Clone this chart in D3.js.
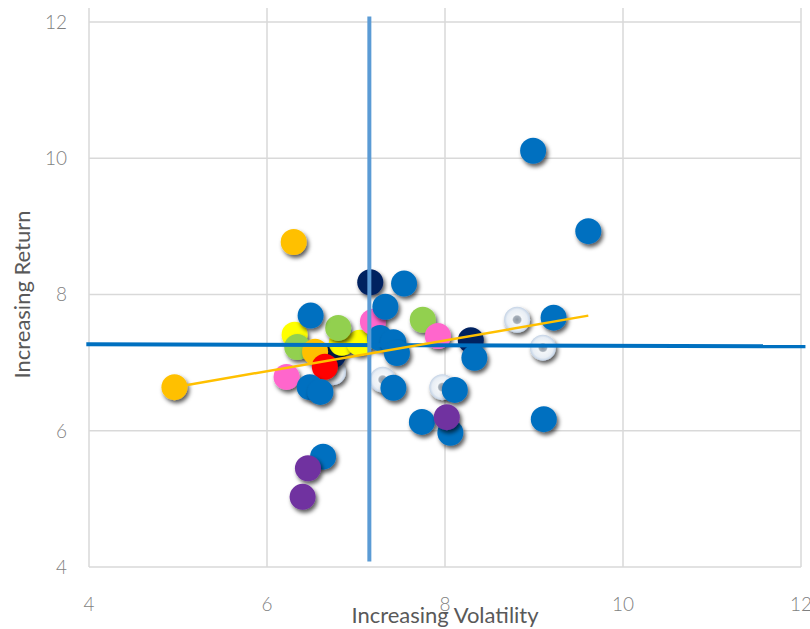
<!DOCTYPE html>
<html>
<head>
<meta charset="utf-8">
<script src="https://cdn.jsdelivr.net/npm/d3@7"></script>
<style>
  body { margin: 0; background: #fff; }
  svg { display: block; }
</style>
</head>
<body>
<svg width="810" height="629"></svg>
<script>
const width = 810;
const height = 629;

// series drawn in this order (later ones sit on top)
const seriesNames = ["ring", "navy", "yellow", "green", "pink", "orange", "red", "blue", "purple"];
const seriesColors = ["#dbe4ef", "#002060", "#ffff00", "#92d050", "#ff66cc", "#ffc000", "#ff0000", "#0070c0", "#7030a0"];

const volatility = [
  8.81, 9.10, 6.74, 7.30, 7.97,
  7.16, 8.29, 6.74,
  6.31, 6.84, 7.04,
  7.75, 6.80, 6.34,
  7.19, 7.92, 6.22,
  6.30, 6.54, 4.96,
  6.65,
  8.99, 9.61, 7.54, 7.33, 6.49, 9.22, 7.27, 7.42, 7.46, 8.33, 6.48, 6.60, 7.42, 8.11, 7.74, 8.06, 9.11, 6.63,
  8.02, 6.46, 6.40
];
const returns = [
  7.63, 7.22, 6.86, 6.75, 6.64,
  8.18, 7.33, 7.11,
  7.41, 7.29, 7.29,
  7.63, 7.51, 7.23,
  7.60, 7.39, 6.79,
  8.77, 7.16, 6.64,
  6.94,
  10.11, 8.93, 8.16, 7.82, 7.69, 7.66, 7.36, 7.30, 7.14, 7.07, 6.64, 6.57, 6.63, 6.60, 6.13, 5.97, 6.17, 5.62,
  6.20, 5.45, 5.03
];
const series = [
  "ring", "ring", "ring", "ring", "ring",
  "navy", "navy", "navy",
  "yellow", "yellow", "yellow",
  "green", "green", "green",
  "pink", "pink", "pink",
  "orange", "orange", "orange",
  "red",
  "blue", "blue", "blue", "blue", "blue", "blue", "blue", "blue", "blue", "blue", "blue", "blue", "blue", "blue", "blue", "blue", "blue", "blue",
  "purple", "purple", "purple"
];

const xTicks = [4, 6, 8, 10, 12];
const yTicks = [4, 6, 8, 10, 12];

// reference lines
const avgReturnX = [3.97, 12.05];
const avgReturnY = [7.27, 7.24];
const avgVolX = [7.15, 7.15];
const avgVolY = [4.08, 12.08];
const trendX = [4.96, 9.61];
const trendY = [6.64, 7.69];

const margin = { top: 22, right: 9, bottom: 62, left: 89 };

const x = d3.scaleLinear().domain([4, 12]).range([margin.left, width - margin.right]);
const y = d3.scaleLinear().domain([4, 12]).range([height - margin.bottom, margin.top]);
const color = d3.scaleOrdinal().domain(seriesNames).range(seriesColors);

const svg = d3.select("svg");
const defs = svg.append("defs");

defs.append("filter")
  .attr("id", "shadow")
  .attr("x", "-50%").attr("y", "-50%")
  .attr("width", "200%").attr("height", "200%")
  .append("feDropShadow")
  .attr("dx", 2)
  .attr("dy", 3)
  .attr("stdDeviation", 2)
  .attr("flood-color", "#000")
  .attr("flood-opacity", 0.65);

const ringGrad = defs.append("radialGradient").attr("id", "ring");
[["0%", "#8d97a2"], ["28%", "#a7b0ba"], ["38%", "#f3f6f9"], ["78%", "#e8eef5"], ["100%", "#c3d2e5"]]
  .forEach(([o, c]) => ringGrad.append("stop").attr("offset", o).attr("stop-color", c));

// gridlines
svg.append("g")
  .attr("stroke", "#d9d9d9")
  .attr("stroke-width", 1.5)
  .selectAll("line")
  .data(xTicks)
  .join("line")
  .attr("x1", d => x(d))
  .attr("x2", d => x(d))
  .attr("y1", y(12) - 14)
  .attr("y2", y(4));

svg.append("g")
  .attr("stroke", "#d9d9d9")
  .attr("stroke-width", 1.5)
  .selectAll("line")
  .data(yTicks)
  .join("line")
  .attr("x1", x(4))
  .attr("x2", x(12))
  .attr("y1", d => y(d))
  .attr("y2", d => y(d));

// tick labels
svg.append("g")
  .attr("font-family", "Lato, 'Open Sans', sans-serif")
  .attr("font-weight", 300)
  .attr("font-size", 19)
  .attr("fill", "#7f7f7f")
  .attr("text-anchor", "end")
  .selectAll("text")
  .data(yTicks)
  .join("text")
  .attr("x", margin.left - 22)
  .attr("y", d => y(d))
  .attr("dy", "0.36em")
  .text(d => d);

svg.append("g")
  .attr("font-family", "Lato, 'Open Sans', sans-serif")
  .attr("font-weight", 300)
  .attr("font-size", 19)
  .attr("fill", "#7f7f7f")
  .attr("text-anchor", "middle")
  .selectAll("text")
  .data(xTicks)
  .join("text")
  .attr("x", d => x(d))
  .attr("y", 611)
  .text(d => d);

// axis titles
svg.append("text")
  .attr("x", x(8))
  .attr("y", 623)
  .attr("text-anchor", "middle")
  .attr("font-family", "Lato, 'Open Sans', sans-serif")
  .attr("font-size", 22)
  .attr("fill", "#595959")
  .text("Increasing Volatility");

svg.append("text")
  .attr("transform", `translate(30,${(y(4) + y(12)) / 2})rotate(-90)`)
  .attr("text-anchor", "middle")
  .attr("font-family", "Lato, 'Open Sans', sans-serif")
  .attr("font-size", 22)
  .attr("fill", "#595959")
  .text("Increasing Return");

// points
const points = volatility.map((v, i) => ({ v, r: returns[i], s: series[i] }));
points.sort((a, b) => seriesNames.indexOf(a.s) - seriesNames.indexOf(b.s));

svg.append("g")
  .selectAll("circle")
  .data(points)
  .join("circle")
  .attr("cx", d => x(d.v))
  .attr("cy", d => y(d.r))
  .attr("r", 13)
  .attr("fill", d => d.s === "ring" ? "url(#ring)" : color(d.s))
  .attr("filter", "url(#shadow)");

// reference lines on top
const line = d3.line().x(d => x(d[0])).y(d => y(d[1]));

svg.append("path")
  .datum(avgReturnX.map((d, i) => [d, avgReturnY[i]]))
  .attr("d", line)
  .attr("fill", "none")
  .attr("stroke", "#0070c0")
  .attr("stroke-width", 4);

svg.append("path")
  .datum(avgVolX.map((d, i) => [d, avgVolY[i]]))
  .attr("d", line)
  .attr("fill", "none")
  .attr("stroke", "#5b9bd5")
  .attr("stroke-width", 4);

svg.append("path")
  .datum(trendX.map((d, i) => [d, trendY[i]]))
  .attr("d", line)
  .attr("fill", "none")
  .attr("stroke", "#ffc000")
  .attr("stroke-width", 2.5);
</script>
</body>
</html>
